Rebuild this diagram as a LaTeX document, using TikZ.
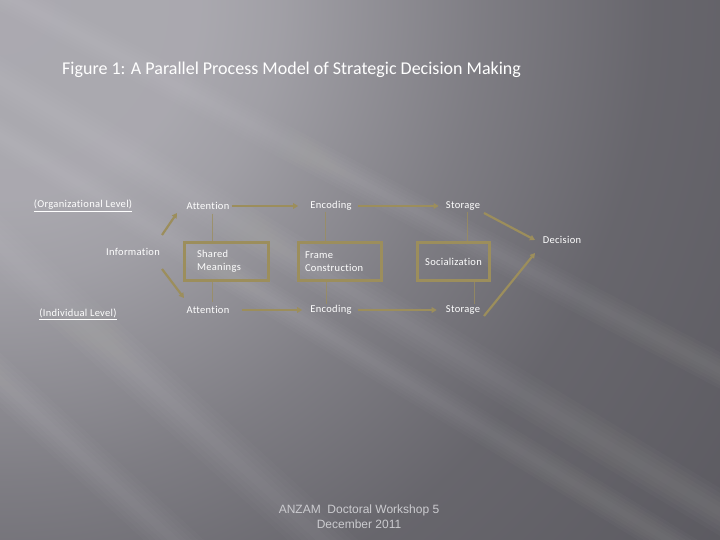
\documentclass[tikz,border=0pt]{standalone}
\usepackage{fontspec}
\setmainfont{Carlito}
\newfontfamily\arialf{Liberation Sans}
\newfontfamily\lblfont[LetterSpace=3, Ligatures=NoCommon]{Carlito}
\usetikzlibrary{arrows.meta}
\definecolor{goldline}{HTML}{9C8E5C}
\definecolor{foottext}{HTML}{CBCBCF}
\pgfdeclareradialshading{bgrad}{\pgfpoint{0bp}{0bp}}{%
  rgb(0bp)=(.67,.665,.69);
  rgb(200bp)=(.665,.66,.685);
  rgb(280bp)=(.63,.625,.65);
  rgb(360bp)=(.575,.57,.595);
  rgb(480bp)=(.495,.49,.515);
  rgb(650bp)=(.405,.40,.425);
  rgb(900bp)=(.36,.355,.38)}
\tikzset{
  lbl/.style={text=white, font=\lblfont\fontsize{10.5}{12.6}\selectfont, inner sep=1pt},
  stagebox/.style={draw=goldline, line width=3pt, text=white,
    font=\lblfont\fontsize{10.5}{13}\selectfont, minimum height=38pt},
  arr/.style={draw=goldline, line width=2.2pt, -{Triangle[length=5pt,width=5.5pt]}},
  vline/.style={draw=goldline, line width=0.9pt, draw opacity=0.75},
  streak/.style={fill=white, fill opacity=0.018}
}
\begin{document}
\begin{tikzpicture}[x=1pt,y=-1pt]
\useasboundingbox (0,0) rectangle (720,540);
% background
\begin{scope}
  \clip (0,0) rectangle (720,540);
  \begin{scope}
    \pgftransformshift{\pgfpoint{80pt}{-200pt}}
    \pgftransformrotate{-35}
    \pgftransformxscale{1.2}
    \pgfuseshading{bgrad}
  \end{scope}
  % soft light streaks, running right across the page
  \foreach \xa/\ya/\xb/\yb/\w in {-271/0/389/600/14, -413/0/239/600/12, -100/75/800/620/12, -200/-40/800/560/16, -100/-60/900/465/14} {
    \foreach \k in {1,...,5} {
      \fill[streak] (\xa-\k*\w/2,\ya) -- (\xb-\k*\w/2,\yb) -- (\xb+\k*\w/2,\yb) -- (\xa+\k*\w/2,\ya) -- cycle;
    }
  }
\end{scope}

% title
\node[text=white, font=\fontsize{18}{21}\selectfont, anchor=west, inner sep=0pt] (title) at (62,70)
  {Figure 1: A Parallel Process Model of Strategic Decision Making};

% level labels
\node[lbl] (orglev) at (83,206) {\underline{(Organizational Level)}};
\node[lbl] (indlev) at (78,314) {\underline{(Individual Level)}};
\node[lbl] (info) at (133,252) {Information};

% stage labels
\node[lbl] (att1) at (208,206) {Attention};
\node[lbl] (enc1) at (331,206) {Encoding};
\node[lbl] (sto1) at (463,206) {Storage};
\node[lbl] (att2) at (208,310) {Attention};
\node[lbl] (enc2) at (331,310) {Encoding};
\node[lbl] (sto2) at (463,310) {Storage};
\node[lbl] (dec) at (562,240) {Decision};

% boxes
\node[stagebox, minimum width=84pt, text width=59pt, inner xsep=12.5pt, align=left] (sm) at (226.5,261.5)
  {Shared\\Meanings};
\node[stagebox, minimum width=83pt, text width=70pt, inner xsep=6.5pt, align=left] (fc) at (340,261.5)
  {Frame\\Construction};
\node[stagebox, minimum width=72pt, align=center] (soc) at (453.5,261.5) {Socialization};

% horizontal arrows
\draw[arr] ([xshift=1pt]att1.east) -- ([xshift=-11pt]enc1.west);
\draw[arr] ([xshift=5pt]enc1.east) -- ([xshift=-6pt]sto1.west);
\draw[arr] ([xshift=11pt]att2.east) -- ([xshift=-7pt]enc2.west);
\draw[arr] ([xshift=5pt]enc2.east) -- ([xshift=-8pt]sto2.west);

% information arrows
\draw[arr] ([xshift=29pt,yshift=17pt]info.center) -- ([xshift=-31pt,yshift=-7pt]att1.center);
\draw[arr] ([xshift=29pt,yshift=-17pt]info.center) -- ([xshift=-24pt,yshift=12pt]att2.center);

% decision arrows
\draw[arr] ([xshift=21pt,yshift=-7pt]sto1.center) -- ([xshift=-27pt]dec.center);
\draw[arr] ([xshift=21pt,yshift=-6pt]sto2.center) -- ([xshift=-27pt,yshift=-13pt]dec.center);

% vertical connectors
\draw[vline] ([xshift=4pt,yshift=-3pt]att1.south) -- ([xshift=4pt]att1.south |- sm.north);
\draw[vline] ([xshift=4pt]att2.north |- sm.south) -- ([xshift=4pt,yshift=3pt]att2.north);
\draw[vline] ([xshift=-6pt]enc1.south) -- ([xshift=-6pt]enc1.south |- fc.north);
\draw[vline] ([xshift=-5pt]enc2.north |- fc.south) -- ([xshift=-5pt]enc2.north);
\draw[vline] ([xshift=4pt]sto1.south) -- ([xshift=4pt]sto1.south |- soc.north);
\draw[vline] ([xshift=11pt]sto2.north |- soc.south) -- ([xshift=11pt]sto2.north);

% footer
\node[text=foottext, font=\arialf\fontsize{12}{15}\selectfont, align=center, inner sep=0pt] (foot) at (359,516.5)
  {ANZAM\ \ Doctoral Workshop 5\\December 2011};
\end{tikzpicture}
\end{document}
